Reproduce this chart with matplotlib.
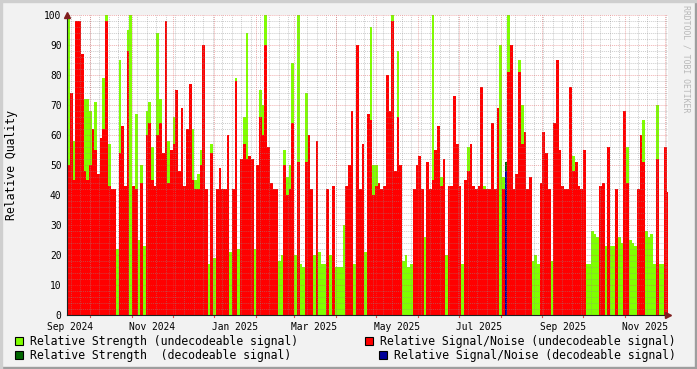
import numpy as np
import pandas as pd
import matplotlib
matplotlib.use("Agg")
import matplotlib.pyplot as plt
import matplotlib.dates as mdates
from matplotlib.patches import Rectangle

# two-day bins, starting 2024-09-14
start = pd.Timestamp("2024-09-14")
bin_days = 2

# Relative Signal/Noise (undecodeable signal), 0 = no data
snr_undec = [
    50, 74, 45, 98, 98, 87, 48, 45, 50, 62, 55, 47, 59, 62, 98, 43, 42, 42, 0, 54,
    63, 43, 88, 0, 43, 42, 0, 44, 0, 60, 64, 45, 43, 60, 64, 54, 98,
    44, 55, 57, 75, 48, 69, 43, 62, 77, 45, 42, 42, 50, 90, 42, 0, 54, 0, 42,
    49, 42, 42, 60, 0, 42, 78, 0, 52, 57, 52, 53, 52, 0, 50, 66, 60, 90,
    56, 44, 42, 42, 0, 0, 50, 40, 42, 64, 0, 51, 0, 0, 51, 60, 42, 0, 58,
    0, 0, 0, 42, 0, 43, 0, 0, 0, 0, 43, 50, 68, 0, 90, 42, 57, 0,
    67, 65, 40, 43, 44, 42, 43, 80, 68, 98, 48, 66, 50, 0, 0, 0, 0, 42,
    50, 53, 42, 0, 51, 42, 45, 55, 63, 43, 52, 0, 43, 43, 73, 57, 43, 0, 45,
    48, 57, 43, 42, 43, 76, 42, 42, 42, 64, 42, 69, 0, 42, 38, 81, 90, 42,
    47, 81, 57, 61, 42, 46, 0, 0, 0, 44, 61, 54, 42, 0, 64, 85, 55, 43, 42,
    42, 76, 48, 51, 43, 42, 55, 0, 0, 0, 0, 0, 43, 44, 0, 56, 0, 0, 42,
    0, 0, 68, 44, 0, 0, 0, 42, 60, 51, 0, 0, 0, 0, 52, 0, 0, 56, 41,
]

# Relative Strength (undecodeable signal)
str_undec = [
    100, 68, 58, 65, 62, 85, 72, 72, 68, 50, 71, 45, 50, 79, 100, 57, 42, 0, 22, 85,
    50, 42, 95, 100, 0, 67, 25, 50, 23, 68, 71, 56, 43, 94, 72, 54, 50,
    58, 50, 66, 45, 48, 65, 43, 60, 55, 62, 45, 47, 55, 0, 20, 17, 57, 19, 17,
    0, 16, 21, 60, 21, 40, 79, 22, 42, 66, 94, 45, 0, 22, 50, 75, 70, 100,
    20, 22, 19, 22, 18, 20, 55, 46, 50, 84, 20, 100, 17, 16, 74, 49, 17, 20, 44,
    21, 17, 17, 18, 20, 17, 16, 16, 16, 30, 17, 21, 67, 17, 22, 17, 17, 21,
    45, 96, 50, 50, 19, 20, 18, 57, 63, 100, 45, 88, 45, 18, 20, 16, 17, 20,
    19, 19, 20, 26, 24, 20, 100, 46, 22, 46, 24, 20, 17, 17, 45, 20, 20, 17, 42,
    56, 49, 20, 42, 20, 56, 43, 17, 20, 58, 42, 42, 90, 46, 45, 100, 43, 21,
    44, 85, 70, 45, 25, 28, 18, 20, 17, 17, 20, 20, 18, 18, 45, 50, 42, 42, 42,
    0, 20, 53, 47, 43, 20, 20, 17, 17, 28, 27, 26, 28, 23, 23, 56, 23, 23, 26,
    26, 24, 23, 56, 25, 24, 23, 23, 60, 65, 28, 26, 27, 17, 70, 17, 17, 20, 24,
]

# decodeable signal only shows up once (July 2025)
str_dec = [0] * len(snr_undec)
snr_dec = [0] * len(snr_undec)
str_dec[162] = 51
snr_dec[162] = 48

dates = pd.date_range(start, periods=len(snr_undec), freq=f"{bin_days}D")

label_months = ["2024-09", "2024-11", "2025-01", "2025-03",
                "2025-05", "2025-07", "2025-09", "2025-11"]

C_GREEN = "#80ff00"
C_RED = "#ff0000"
C_DKGREEN = "#006600"
C_BLUE = "#000099"

W, H = 697, 369
fig = plt.figure(figsize=(W / 100, H / 100), dpi=100, facecolor="#f2f2f2")
plt.rcParams["font.family"] = ["DejaVu Sans Mono"]

# rrdtool style shaded frame
fig.patches.append(Rectangle((0, 0), 1, 2 / H, transform=fig.transFigure, color="#9e9e9e", zorder=0))
fig.patches.append(Rectangle((1 - 2 / W, 0), 2 / W, 1, transform=fig.transFigure, color="#9e9e9e", zorder=0))
fig.patches.append(Rectangle((0, 1 - 2 / H), 1, 2 / H, transform=fig.transFigure, color="#cfcfcf", zorder=0))
fig.patches.append(Rectangle((0, 0), 2 / W, 1, transform=fig.transFigure, color="#cfcfcf", zorder=0))

x0, y0, x1, y1 = 67, 15, 668, 315
ax = fig.add_axes([x0 / W, 1 - y1 / H, (x1 - x0) / W, (y1 - y0) / H])
ax.set_facecolor("white")

w = pd.Timedelta(days=bin_days)
ax.bar(dates, str_undec, width=w, align="edge", color=C_GREEN, linewidth=0, zorder=1)
ax.bar(dates, snr_undec, width=w, align="edge", color=C_RED, linewidth=0, zorder=2)
ax.bar(dates, str_dec, width=w, align="edge", color=C_DKGREEN, linewidth=0, zorder=3)
ax.bar(dates, snr_dec, width=w, align="edge", color=C_BLUE, linewidth=0, zorder=4)

xmin = pd.Timestamp("2024-09-13 18:00")
xmax = pd.Timestamp("2025-12-03")
ax.set_xlim(xmin, xmax)
ax.set_ylim(0, 100)

# grid: weekly minor, monthly major (x); 2 minor, 10 major (y)
grid_c = (0.56, 0.56, 0.56, 0.45)
mgrid_c = (0.87, 0.31, 0.31, 0.45)
weeks = pd.date_range(xmin, xmax, freq="W-MON")
months = pd.date_range("2024-10-01", xmax, freq="MS")
for d in weeks:
    ax.axvline(d, color=grid_c, lw=0.7, ls=(0, (1, 1)), zorder=5)
for d in months:
    ax.axvline(d, color=mgrid_c, lw=0.7, ls=(0, (1, 1)), zorder=6)
for v in range(2, 100, 2):
    if v % 10:
        ax.axhline(v, color=grid_c, lw=0.7, ls=(0, (1, 1)), zorder=5)
for v in range(10, 101, 10):
    ax.axhline(v, color=mgrid_c, lw=0.7, ls=(0, (1, 1)), zorder=6)

# labels centred in their month
ax.set_xticks([pd.Timestamp(m + "-16") for m in label_months])
ax.set_xticklabels([pd.Timestamp(m).strftime("%b %Y") for m in label_months], fontsize=6.9)
ax.tick_params(axis="x", length=0, pad=5)
ax.set_yticks(range(0, 101, 10))
ax.tick_params(axis="y", length=0, pad=4, labelsize=6.9)
for d in months:
    ax.plot([d, d], [0, -0.7], color="#de4f4f", lw=0.8, clip_on=False, zorder=7)

for s in ["top", "right"]:
    ax.spines[s].set_visible(False)
for s in ["left", "bottom"]:
    ax.spines[s].set_color("#1f1f1f")
    ax.spines[s].set_linewidth(0.8)
    ax.spines[s].set_zorder(8)

# axis arrows
ax.plot([0], [1.0], marker="^", markersize=4.5, color="#801f1f", transform=ax.transAxes,
        clip_on=False, zorder=9)
ax.plot([1.0], [0], marker=">", markersize=4.5, color="#801f1f", transform=ax.transAxes,
        clip_on=False, zorder=9)

fig.text(12 / W, 1 - 165 / H, "Relative Quality", rotation=90, ha="center", va="center", fontsize=8.3)
fig.text(686 / W, 1 - 59 / H, "RRDTOOL / TOBI OETIKER", rotation=270, ha="center", va="center",
         fontsize=5.9, color="#b8b8b8")

# legend
legend_items = [
    (15, 341, C_GREEN, "Relative Strength (undecodeable signal)"),
    (15, 355, C_DKGREEN, "Relative Strength  (decodeable signal)"),
    (365, 341, C_RED, "Relative Signal/Noise (undecodeable signal)"),
    (379, 355, C_BLUE, "Relative Signal/Noise (decodeable signal)"),
]
for lx, ly, col, txt in legend_items:
    fig.patches.append(Rectangle((lx / W, 1 - (ly + 4) / H), 8 / W, 8 / H, transform=fig.transFigure,
                                 facecolor=col, edgecolor="black", linewidth=0.8, zorder=3))
    fig.text((lx + 15) / W, 1 - ly / H, txt, ha="left", va="center", fontsize=8.3)

fig.savefig("out.png", dpi=100, facecolor=fig.get_facecolor())
